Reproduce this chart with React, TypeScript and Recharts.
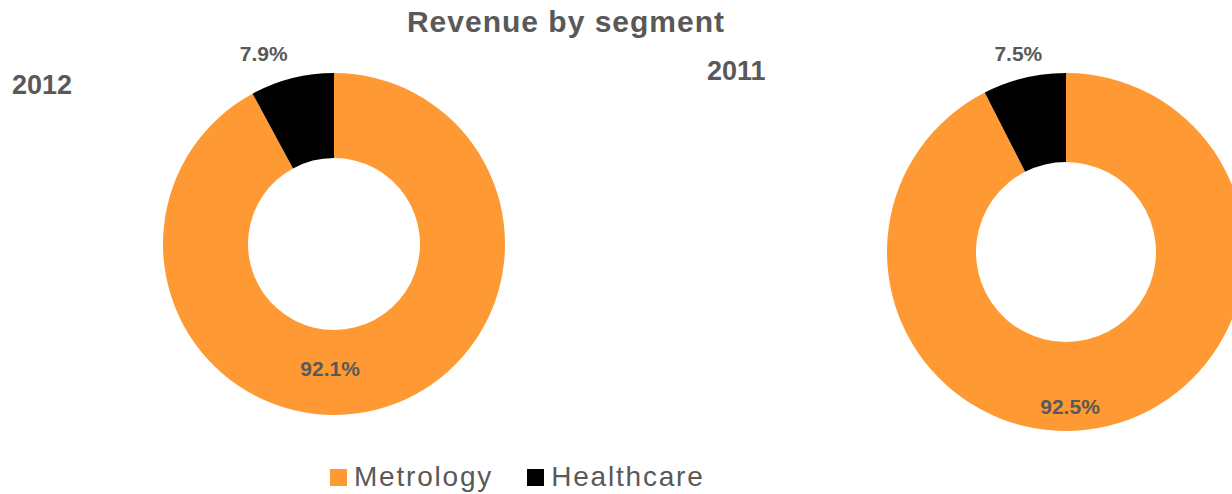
import React from 'react';
import { PieChart, Pie, Cell } from 'recharts';

// revenue split, in percent
const segments = ['Metrology', 'Healthcare'];
const colors = ['#FF9933', '#000000'];
const years = ['2012', '2011'];
const share2012 = [92.1, 7.9];
const share2011 = [92.5, 7.5];

const TEXT = '#595959';
const FONT = '"Liberation Sans", Arial, sans-serif';
const RAD = Math.PI / 180;

const toRows = (values: number[]) => segments.map((name, i) => ({ name, value: values[i] }));

// where Excel dropped the labels: angle shift from the slice middle, radius as a share of the outer radius
const makeLabel = (shift: number[], ratio: number[]) => (props: any) => {
  const { cx, cy, midAngle, outerRadius, index, value } = props;
  const a = (midAngle + shift[index]) * RAD;
  const r = outerRadius * ratio[index];
  const x = cx + r * Math.cos(a);
  const y = cy - r * Math.sin(a);
  return (
    <text
      x={x}
      y={y}
      textAnchor="middle"
      dominantBaseline="central"
      fill={TEXT}
      fontFamily={FONT}
      fontSize={21}
      fontWeight="bold"
    >
      {value.toFixed(1) + '%'}
    </text>
  );
};

const yearStyle: React.CSSProperties = {
  position: 'absolute',
  fontFamily: FONT,
  fontSize: 27,
  fontWeight: 'bold',
  color: TEXT,
  lineHeight: '27px',
};

export default function App() {
  return (
    <div style={{ position: 'absolute', left: 0, top: 0, width: 1232, height: 494, background: '#fff', overflow: 'hidden' }}>
      <div
        style={{
          position: 'absolute',
          left: 0,
          top: 6,
          width: 1132,
          textAlign: 'center',
          fontFamily: FONT,
          fontSize: 30,
          fontWeight: 'bold',
          letterSpacing: 1,
          color: TEXT,
          lineHeight: '32px',
        }}
      >
        Revenue by segment
      </div>
      <div style={{ ...yearStyle, left: 12, top: 72 }}>{years[0]}</div>
      <div style={{ ...yearStyle, left: 707, top: 58 }}>{years[1]}</div>

      <PieChart width={1232} height={494} margin={{ top: 0, right: 0, bottom: 0, left: 0 }} style={{ position: 'absolute', left: 0, top: 0 }}>
        <Pie
          data={toRows(share2012)}
          dataKey="value"
          cx={334}
          cy={244}
          innerRadius={86}
          outerRadius={171}
          startAngle={90}
          endAngle={-270}
          stroke="none"
          labelLine={false}
          label={makeLabel([-16, 6], [0.727, 1.19])}
          isAnimationActive={false}
        >
          {segments.map((s, i) => (
            <Cell key={s} fill={colors[i]} />
          ))}
        </Pie>
        <Pie
          data={toRows(share2011)}
          dataKey="value"
          cx={1066}
          cy={252}
          innerRadius={90}
          outerRadius={179}
          startAngle={90}
          endAngle={-270}
          stroke="none"
          labelLine={false}
          label={makeLabel([-12, 0], [0.865, 1.141])}
          isAnimationActive={false}
        >
          {segments.map((s, i) => (
            <Cell key={s} fill={colors[i]} />
          ))}
        </Pie>
      </PieChart>

      <div style={{ position: 'absolute', left: 330, top: 461, display: 'flex', alignItems: 'center', fontFamily: FONT, fontSize: 28, letterSpacing: 1.8, color: TEXT, lineHeight: '32px' }}>
        {segments.map((s, i) => (
          <div key={s} style={{ display: 'flex', alignItems: 'center', marginRight: i === 0 ? 34 : 0 }}>
            <span style={{ display: 'inline-block', width: 17, height: 17, background: colors[i], marginRight: 7 }} />
            <span>{s}</span>
          </div>
        ))}
      </div>
    </div>
  );
}
